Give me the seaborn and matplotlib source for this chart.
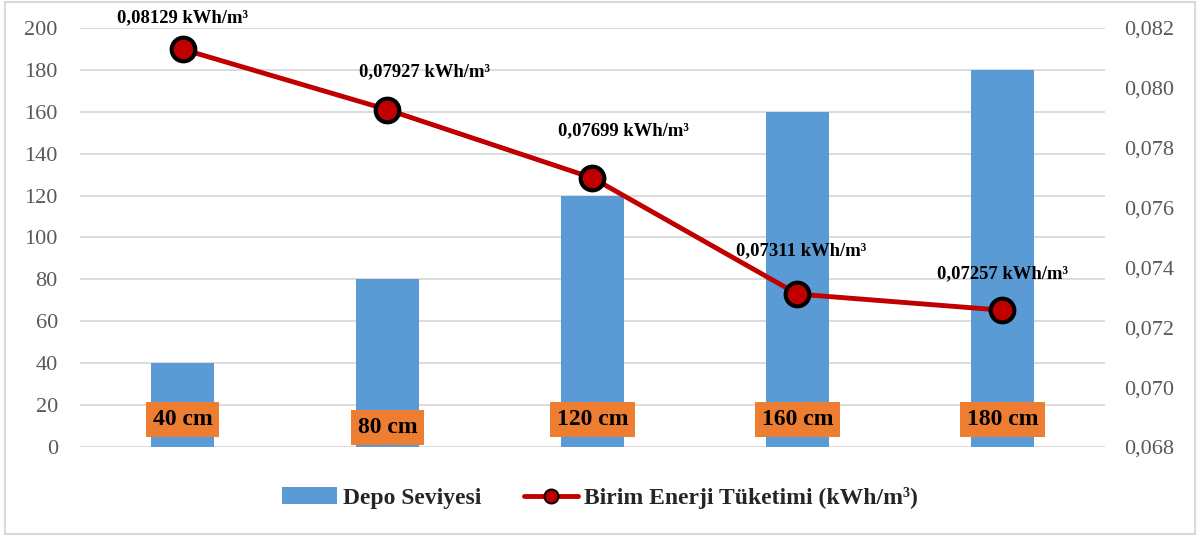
import numpy as np
import pandas as pd
import matplotlib.pyplot as plt
import seaborn as sns
from matplotlib.patches import Patch, Rectangle
from matplotlib.lines import Line2D
from matplotlib.ticker import FuncFormatter, MultipleLocator

levels = ["40 cm", "80 cm", "120 cm", "160 cm", "180 cm"]
depo = [40, 80, 120, 160, 180]
enerji = [0.08129, 0.07927, 0.07699, 0.07311, 0.07257]
enerji_labels = ["0,08129 kWh/m³", "0,07927 kWh/m³", "0,07699 kWh/m³",
                 "0,07311 kWh/m³", "0,07257 kWh/m³"]

BAR = "#5B9BD5"
LINE = "#C00000"
ORANGE = "#ED7D31"
GRID = "#D9D9D9"
TICK = "#595959"

sns.set_style("white")
plt.rcParams['font.family'] = ['Liberation Serif', 'DejaVu Serif']

fig = plt.figure(figsize=(12, 5.37), dpi=100)
ax = fig.add_axes([0.0667, 0.1676, 0.854, 0.7803])

df = pd.DataFrame({"level": levels, "depo": depo})
sns.barplot(data=df, x="level", y="depo", color=BAR, width=0.31,
            saturation=1, linewidth=0, ax=ax, zorder=2)
ax.set_ylim(0, 200)
ax.yaxis.set_major_locator(MultipleLocator(20))
ax.set_xlabel("")
ax.set_ylabel("")
ax.set_xticks([])
ax.grid(axis="y", color=GRID, linewidth=1.3, zorder=0)
ax.set_axisbelow(True)
ax.tick_params(axis="y", labelsize=16, colors=TICK, length=0, pad=16)
for s in ax.spines.values():
    s.set_visible(False)

# orange category boxes at the foot of each bar
box_y = [13, 9.5, 13, 13, 13]
for i, (lab, yy) in enumerate(zip(levels, box_y)):
    ax.text(i, yy, lab, ha="center", va="center", fontsize=17, fontweight="bold",
            color="black", zorder=4,
            bbox=dict(boxstyle="square,pad=0.3", fc=ORANGE, ec="none"))

ax2 = ax.twinx()
xpos = np.arange(len(levels))
sns.lineplot(x=xpos, y=enerji, ax=ax2, color=LINE, linewidth=3.5,
             marker="o", markersize=17, markerfacecolor=LINE,
             markeredgecolor="black", markeredgewidth=3, zorder=5)
ax2.set_ylim(0.068, 0.082)
ax2.yaxis.set_major_locator(MultipleLocator(0.002))
ax2.yaxis.set_major_formatter(FuncFormatter(lambda v, p: f"{v:.3f}".replace(".", ",")))
ax2.tick_params(axis="y", labelsize=16, colors=TICK, length=0, pad=14)
for s in ax2.spines.values():
    s.set_visible(False)
ax.set_xlim(-0.5, len(levels) - 0.5)

label_dx = [0, 27, 22, 3, 0]
label_dy = [23, 27, 34, 31, 26]
for i, (v, lab) in enumerate(zip(enerji, enerji_labels)):
    ax2.annotate(lab, (i, v), xytext=(label_dx[i], label_dy[i]),
                 textcoords="offset points", ha="center", va="center",
                 fontsize=13.4, fontweight="bold", color="black", zorder=6)

handles = [
    Patch(facecolor=BAR, edgecolor="none"),
    Line2D([0], [0], color=LINE, linewidth=3.5, marker="o", markersize=10,
           markerfacecolor=LINE, markeredgecolor="black", markeredgewidth=1.5),
]
fig.legend(handles, ["Depo Seviyesi", "Birim Enerji Tüketimi (kWh/m³)"],
           loc="center", bbox_to_anchor=(0.5, 0.073), ncol=2, frameon=False,
           prop={"weight": "bold", "size": 17}, handlelength=2.3,
           columnspacing=1.8, handletextpad=0.25)

fig.patches.append(Rectangle((0.004, 0.006), 0.992, 0.99, transform=fig.transFigure,
                             fill=False, edgecolor="#D9D9D9", linewidth=1.5))

fig.savefig("out.png", dpi=100)
